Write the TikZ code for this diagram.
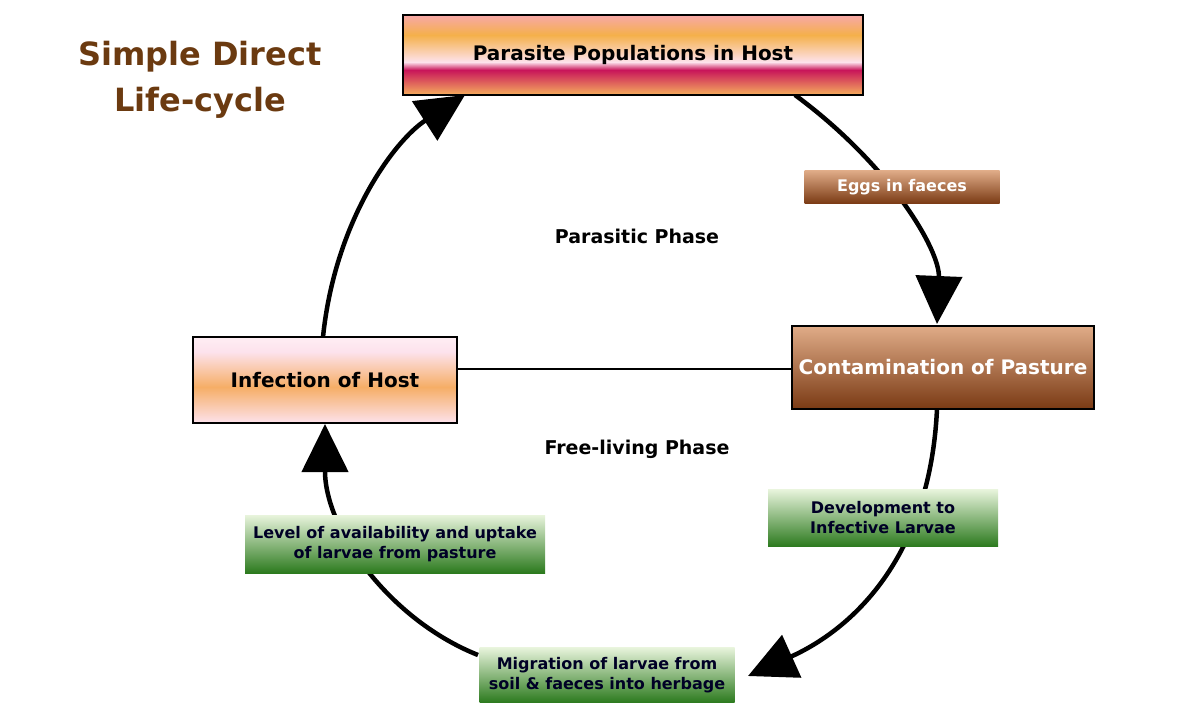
\documentclass[tikz,border=0pt]{standalone}
\usepackage{fontspec}
\setmainfont{DejaVu Sans}
\usetikzlibrary{arrows.meta}
\definecolor{brownT}{HTML}{6B3A10}
\definecolor{pk}{HTML}{F7A8A8}
\definecolor{or}{HTML}{F5B04A}
\definecolor{lp}{HTML}{FDE2EC}
\definecolor{mg}{HTML}{C8155A}
\definecolor{br1}{HTML}{E0AC88}
\definecolor{br2}{HTML}{7A3A14}
\definecolor{gr1}{HTML}{E8F4DC}
\definecolor{gr2}{HTML}{2C7A1E}
\tikzset{
  cyc/.style={line width=4.5pt,-{Triangle[length=48pt,width=46pt]}},
  lbl/.style={font=\bfseries\fontsize{20}{24}\selectfont,text=black},
  small/.style={font=\bfseries\fontsize{16}{20}\selectfont,align=center},
  brbox/.style={top color=br1,bottom color=br2,text=white},
  grbox/.style={top color=gr1,bottom color=gr2,text=black!85!blue},
}
\begin{document}
\begin{tikzpicture}[x=1pt,y=-1pt]
\useasboundingbox (0,0) rectangle (1184,720);
% cycle
\coordinate (a1) at (795,95);
\coordinate (a2) at (937,324);
\coordinate (b1) at (937,409);
\coordinate (b2) at (748,676);
\coordinate (c1) at (478,655);
\coordinate (c2) at (325,424);
\coordinate (d1) at (323,337);
\coordinate (d2) at (465,95);
\draw[cyc] (a1) .. controls (890,165) and (940,250) .. (a2);
\draw[cyc] (b1) .. controls (930,560) and (850,630) .. (b2);
\draw[cyc] (c1) .. controls (390,620) and (325,530) .. (c2);
\draw[cyc] (d1) .. controls (335,220) and (395,140) .. (d2);
% top box stripes
\shade[top color=pk,bottom color=or] (403,15) rectangle (863,35);
\shade[top color=or,bottom color=lp] (403,35) rectangle (863,62);
\shade[top color=lp,bottom color=mg] (403,62) rectangle (863,70);
\shade[top color=mg,bottom color=or!80!pk] (403,70) rectangle (863,95);
\node[draw,line width=1.5pt,minimum width=460pt,minimum height=80pt,lbl] (top) at (633,55) {};
\node[lbl] at (633,55) {Parasite Populations in Host};
% left box
\shade[top color=lp!60!white,bottom color=lp] (193,337) rectangle (457,352);
\shade[top color=lp,bottom color=or!70!pk] (193,352) rectangle (457,387);
\shade[top color=or!70!pk,bottom color=lp] (193,387) rectangle (457,423);
\node[draw,line width=1.5pt,minimum width=264pt,minimum height=86pt,lbl] (inf) at (325,380) {Infection of Host};
% right box
\node[draw,line width=1.5pt,minimum width=302pt,minimum height=83pt,lbl,brbox,text=white] (cont) at (943,367.5) {Contamination of Pasture};
\draw[line width=1.3pt] (inf.east |- 0,369) -- (cont.west |- 0,369);
% small boxes
\node[small,brbox,minimum width=195pt,minimum height=33pt] (eggs) at (902,187) {Eggs in faeces};
\node[small,grbox,minimum width=230pt,minimum height=57pt] (dev) at (883,518) {Development to\\Infective Larvae};
\node[small,grbox,minimum width=300pt,minimum height=58pt] (lev) at (395,544) {Level of availability and uptake\\of larvae from pasture};
\node[small,grbox,minimum width=255pt,minimum height=55pt] (mig) at (607,675) {Migration of larvae from\\soil \& faeces into herbage};
% phases
\node[font=\bfseries\fontsize{19}{23}\selectfont] (pp) at (637,236) {Parasitic Phase};
\node[font=\bfseries\fontsize{19}{23}\selectfont] (fp) at (637,449) {Free-living Phase};
\node[font=\bfseries\fontsize{32}{46}\selectfont,text=brownT,align=center] (title) at (200,80) {Simple Direct\\Life-cycle};
\end{tikzpicture}
\end{document}
